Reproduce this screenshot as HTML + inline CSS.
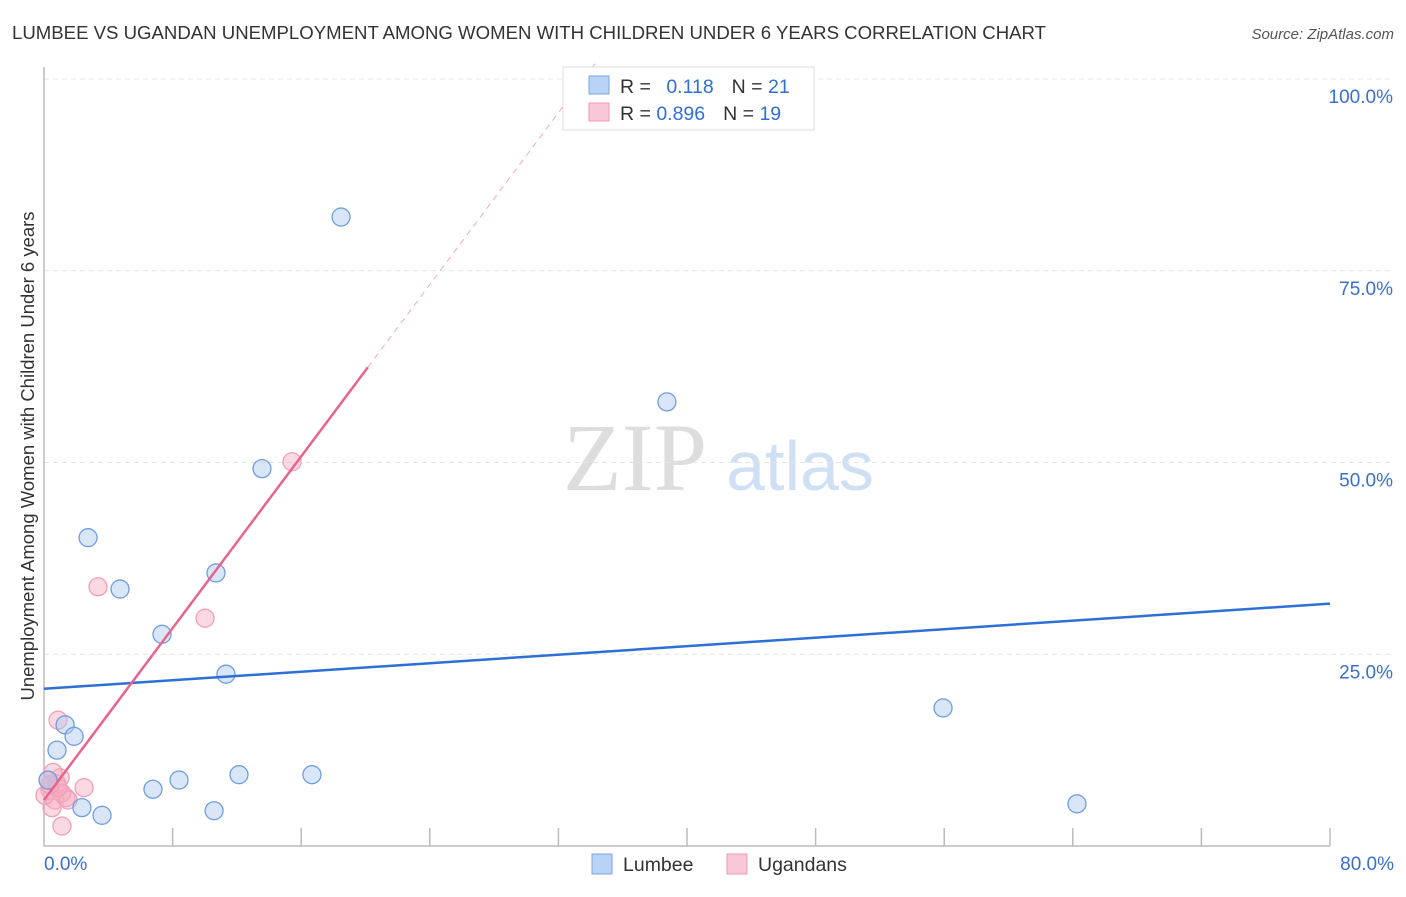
<!DOCTYPE html>
<html><head><meta charset="utf-8"><style>
body{margin:0;background:#fff;font-family:"Liberation Sans",sans-serif;}
</style></head><body>
<svg width="1406" height="892" xmlns="http://www.w3.org/2000/svg" font-family="Liberation Sans, sans-serif">
<text x="12" y="39" font-size="18" fill="#333" textLength="1034" lengthAdjust="spacingAndGlyphs">LUMBEE VS UGANDAN UNEMPLOYMENT AMONG WOMEN WITH CHILDREN UNDER 6 YEARS CORRELATION CHART</text>
<text x="1394" y="39" font-size="15" fill="#555" font-style="italic" text-anchor="end">Source: ZipAtlas.com</text>
<text x="635" y="490" font-size="96" fill="#ddd" font-family="Liberation Serif, serif" text-anchor="middle">ZIP</text>
<text x="800" y="490" font-size="70" fill="#cfe0f5" text-anchor="middle">atlas</text>
<g id="grid"></g>
<g id="axes"></g>
<g id="marks"></g>
<text transform="translate(34,456) rotate(-90)" font-size="18.5" fill="#333" text-anchor="middle">Unemployment Among Women with Children Under 6 years</text>
<text x="44" y="870" font-size="19" fill="#3a6fd0">0.0%</text>
<text x="1394" y="870" font-size="19" fill="#3a6fd0" text-anchor="end">80.0%</text>
<g>
<rect x="563" y="67" width="251" height="63" fill="#fff" stroke="#ddd"/>
<rect x="589" y="76" width="20" height="18" fill="#b8d3f5" stroke="#7aa6e0"/>
<rect x="589" y="103" width="20" height="18" fill="#f9c8d6" stroke="#ee99b4"/>
<text x="620" y="93" font-size="19.5" fill="#333">R = <tspan fill="#2f6fd6" dx="10">0.118</tspan><tspan dx="18">N = </tspan><tspan fill="#2f6fd6">21</tspan></text>
<text x="620" y="120" font-size="19.5" fill="#333">R = <tspan fill="#2f6fd6">0.896</tspan><tspan dx="18">N = </tspan><tspan fill="#2f6fd6">19</tspan></text>
</g>
<g>
<rect x="592" y="854" width="20" height="20" fill="#b8d3f5" stroke="#7aa6e0"/>
<text x="623" y="871" font-size="19.5" fill="#333">Lumbee</text>
<rect x="727" y="854" width="20" height="20" fill="#f9c8d6" stroke="#ee99b4"/>
<text x="758" y="871" font-size="19.5" fill="#333">Ugandans</text>
</g>
</svg>
<script>
const blueX=[18.48,38.75,13.56,2.74,10.70,4.73,7.34,11.32,55.93,1.31,1.87,0.81,6.78,8.40,12.13,16.67,2.36,3.61,10.58,64.26,0.25];
const blueY=[82.0,57.9,49.2,40.2,35.6,33.5,27.6,22.4,18.0,15.8,14.3,12.5,7.4,8.6,9.3,9.3,5.0,4.0,4.6,5.5,8.6];
const pinkX=[15.43,3.36,10.02,0.87,2.49,1.12,1.0,0.37,0.68,1.37,0.25,0.5,0.8,1.1,0.06,1.5,0.56,0.87,0.37];
const pinkY=[50.1,33.8,29.7,16.4,7.6,2.6,8.9,7.3,6.0,6.3,8.6,5.0,8.1,6.9,6.6,6.0,9.6,7.6,8.0];
const yTicks=[25,50,75,100];
const yTickLabels=["25.0%","50.0%","75.0%","100.0%"];
const xTicks=[8,16,24,32,40,48,56,64,72,80];
const blueTrend=[20.5,31.6];
const pinkTrend=[6.0,2.8];
const NS="http://www.w3.org/2000/svg";
const sx=v=>44+v/80*1286, sy=v=>846-v/100*767;
function mk(t,a,p){const e=document.createElementNS(NS,t);for(const k in a)e.setAttribute(k,a[k]);p.appendChild(e);return e;}
const g=document.getElementById('grid'),ax=document.getElementById('axes'),m=document.getElementById('marks');
yTicks.forEach((v,i)=>{const l=mk('line',{x1:44,x2:1394,y1:sy(v),y2:sy(v),stroke:'#e4e4e4','stroke-dasharray':'5,4'},g);


const t=mk('text',{x:1393,y:sy(v)+24,'font-size':19,fill:'#3a6fd0','text-anchor':'end'},g);t.textContent=yTickLabels[i];

});
const a1=mk('path',{d:'M44 67 V846 H1330',fill:'none',stroke:'#bbb','stroke-width':1.5},ax);


xTicks.forEach(v=>{const l=mk('line',{x1:sx(v),x2:sx(v),y1:828,y2:846,stroke:'#bbb','stroke-width':1.5},ax);

});
pinkX.forEach((x,i)=>{const c=mk('circle',{cx:sx(x),cy:sy(pinkY[i]),r:9,fill:'rgba(246,170,194,0.45)',stroke:'#f0a0b8','stroke-width':1.3},m);

});
blueX.forEach((x,i)=>{const c=mk('circle',{cx:sx(x),cy:sy(blueY[i]),r:9,fill:'rgba(170,200,240,0.45)',stroke:'#6f9ee0','stroke-width':1.3},m);

});
const bl=mk('line',{x1:sx(0),y1:sy(blueTrend[0]),x2:sx(80),y2:sy(blueTrend[1]),stroke:'#2d6fd6','stroke-width':2.5},m);


const xe=20.15, xd=(102-pinkTrend[0])/pinkTrend[1];
const pl=mk('line',{x1:sx(0),y1:sy(pinkTrend[0]),x2:sx(xe),y2:sy(pinkTrend[0]+pinkTrend[1]*xe),stroke:'#e8648c','stroke-width':2.5},m);


const pd=mk('line',{x1:sx(xe),y1:sy(pinkTrend[0]+pinkTrend[1]*xe),x2:sx(xd),y2:sy(102),stroke:'#f0a8bc','stroke-width':1,'stroke-dasharray':'6,5'},m);


</script>
</body></html>
